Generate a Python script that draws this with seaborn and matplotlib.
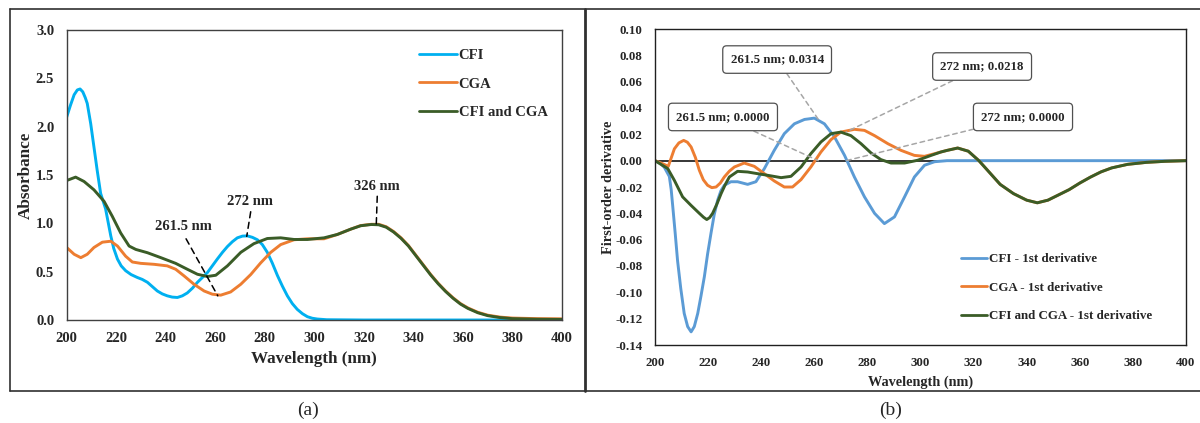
import numpy as np
import pandas as pd
import matplotlib
matplotlib.use("Agg")
import matplotlib.pyplot as plt
from matplotlib.lines import Line2D
import seaborn as sns

# ---------------- data: panel (a) absorbance ----------------
cfi_wl = [200, 201.5, 203, 204.3, 205.4, 206.5, 207.5, 208.3, 209.7, 211, 212.3, 213.7, 215.7,
          217.8, 219, 220.5, 222, 223.8, 226, 228.5, 230.5, 232.6, 234.6, 236.6, 238.6, 240.6,
          242.6, 244.7, 246.7, 248.7, 250.8, 252.8, 254.8, 256.8, 258.8, 260.8, 262.9, 264.9,
          266.9, 268.9, 271, 273, 275, 277, 279, 281, 283, 285.1, 287.1, 289.1, 291.1, 293.1,
          295.2, 297.2, 299.2, 301.2, 305, 320, 400]
cfi_abs = [2.10, 2.22, 2.33, 2.38, 2.39, 2.36, 2.30, 2.24, 2.03, 1.79, 1.55, 1.31, 1.15,
           0.87, 0.74, 0.63, 0.56, 0.51, 0.47, 0.44, 0.42, 0.39, 0.345, 0.30, 0.27, 0.25,
           0.237, 0.233, 0.25, 0.28, 0.33, 0.39, 0.44, 0.49, 0.56, 0.63, 0.70, 0.76,
           0.81, 0.85, 0.868, 0.87, 0.855, 0.83, 0.78, 0.70, 0.59, 0.46, 0.35, 0.25, 0.17, 0.11,
           0.065, 0.034, 0.018, 0.01, 0.003, 0.0, 0.0]

cga_wl = [200, 203, 205.7, 208.3, 211, 214.4, 217.8, 220.5, 223.8, 226.5, 229.9, 235.3, 240.6,
          244, 247.4, 251.4, 255.5, 258.8, 262.2, 266.2, 270.3, 274.3, 278.3, 282.4, 286.4,
          291.8, 297.2, 303.9, 309.3, 314.7, 318.7, 323, 326, 329, 332, 335, 338, 341, 344,
          347, 350, 353, 356, 359, 362, 366, 370, 375, 380, 390, 400]
cga_abs = [0.75, 0.68, 0.645, 0.68, 0.75, 0.805, 0.815, 0.765, 0.66, 0.60, 0.586, 0.576, 0.56,
           0.525, 0.456, 0.37, 0.30, 0.267, 0.257, 0.29, 0.37, 0.47, 0.59, 0.70, 0.78,
           0.83, 0.84, 0.84, 0.885, 0.94, 0.977, 0.99, 0.99, 0.965, 0.915, 0.85, 0.77, 0.67, 0.57,
           0.47, 0.38, 0.30, 0.23, 0.17, 0.125, 0.08, 0.05, 0.03, 0.02, 0.014, 0.012]

mix_wl = [200, 203.6, 207, 211, 215.1, 218.4, 221.8, 225.2, 227.9, 232.6, 238, 244, 248.7,
          252.8, 256.8, 260.2, 264.9, 270.3, 275.6, 281, 286.4, 291.8, 297.2, 303.9, 309.3,
          314.7, 318.7, 323, 326, 329, 332, 335, 338, 341, 344, 347, 350, 353, 356, 359, 362,
          366, 370, 375, 380, 390, 400]
mix_abs = [1.443, 1.478, 1.433, 1.347, 1.227, 1.073, 0.90, 0.765, 0.73, 0.696, 0.645, 0.586, 0.525,
           0.473, 0.45, 0.463, 0.56, 0.70, 0.79, 0.843, 0.85, 0.833, 0.833, 0.85, 0.885,
           0.94, 0.975, 0.988, 0.985, 0.96, 0.91, 0.845, 0.765, 0.665, 0.565, 0.465, 0.375, 0.295,
           0.225, 0.165, 0.12, 0.075, 0.045, 0.025, 0.014, 0.008, 0.006]

# peak annotations in panel (a)
peak_labels = ["261.5 nm", "272 nm", "326 nm"]
peak_wl = [261.0, 272.7, 325.0]
peak_abs = [0.25, 0.865, 0.985]

# ---------------- data: panel (b) first derivative ----------------
dcfi_wl = [200, 202, 203.5, 205.4, 206.1, 206.7, 207.6, 208.5, 209.7, 211, 212.3, 213.6, 214.8,
           216.1, 217.3, 218.6, 219.8, 221.1, 222.3, 223.6, 224.8, 226.1, 228.6, 231.1, 234.9,
           238, 241.2, 244.9, 248.7, 252.5, 256.3, 260, 263.8, 267.6, 271.4, 275.1, 278.9,
           282.7, 286.4, 290.2, 294, 297.7, 301.5, 305.3, 310, 400]
dcfi_val = [0.0, -0.002, -0.005, -0.012, -0.022, -0.035, -0.055, -0.076, -0.097, -0.116, -0.126, -0.130, -0.126,
            -0.116, -0.103, -0.088, -0.071, -0.055, -0.041, -0.030, -0.023, -0.0187, -0.016, -0.016, -0.018,
            -0.016, -0.006, 0.0078, 0.0205, 0.028, 0.0313, 0.0323, 0.028, 0.018, 0.004, -0.0124, -0.0275,
            -0.040, -0.0478, -0.0427, -0.0275, -0.0124, -0.0035, -0.0008, 0.0, 0.0]

dcga_wl = [200, 202.3, 205, 207.3, 209, 210.8, 212.2, 213.6, 215.2, 216.7, 218.2, 219.8, 221.4, 223,
           224.6, 226.1, 228, 229.9, 233.6, 237.4, 241.2, 244.9, 248.7, 251.8, 255, 258.7, 262.5,
           266.3, 270, 275.1, 278.9, 282.7, 287.7, 292.7, 297.7, 301.5, 305.3, 307.7, 310, 314,
           318, 322, 326, 330, 335, 340, 344, 348, 352, 356, 360, 364, 368, 372, 378, 385, 392, 400]
dcga_val = [0.0, -0.0018, -0.0043, 0.009, 0.0135, 0.0154, 0.0140, 0.0104, 0.0025, -0.0073, -0.0145, -0.0187, -0.0205, -0.020,
            -0.0170, -0.0124, -0.0080, -0.0048, -0.0018, -0.0043, -0.0099, -0.0154, -0.020, -0.020, -0.0144, -0.0048, 0.0066,
            0.016, 0.0217, 0.0238, 0.023, 0.019, 0.0129, 0.0078, 0.004, 0.0033, 0.0053, 0.0066, 0.0078, 0.0096,
            0.0072, 0.0, -0.009, -0.018, -0.025, -0.030, -0.032, -0.030, -0.026, -0.022, -0.017, -0.0125, -0.0085,
            -0.0055, -0.0028, -0.0013, -0.0005, 0.0]

dmix_wl = [200, 204.8, 207.3, 210.4, 213.6, 216.7, 218.3, 219.5, 220.6, 221.7, 223.3, 224.9, 226.5, 228,
           231.1, 234.9, 238.7, 242.4, 247.5, 251.2, 255, 258.7, 262.5, 266.3, 270, 273.8, 277.6,
           281.4, 285.1, 288.9, 294, 298.9, 304, 307.7, 310, 314, 318, 322, 326, 330, 335, 340,
           344, 348, 352, 356, 360, 364, 368, 372, 378, 385, 392, 400]
dmix_val = [0.0, -0.006, -0.015, -0.0275, -0.034, -0.040, -0.0430, -0.0447, -0.0432, -0.040, -0.033, -0.025, -0.018, -0.0124,
            -0.0081, -0.0086, -0.0099, -0.0111, -0.0129, -0.0119, -0.0048, 0.0053, 0.0142, 0.0205, 0.0217, 0.019, 0.0129,
            0.0058, 0.0008, -0.0018, -0.0018, 0.0003, 0.004, 0.0066, 0.0078, 0.0096, 0.0072, 0.0, -0.009, -0.018, -0.025,
            -0.030, -0.032, -0.030, -0.026, -0.022, -0.017, -0.0125, -0.0085, -0.0055, -0.0028, -0.0013, -0.0005, 0.0]

deriv_ann_wl = [261.5, 261.5, 272.0, 272.0]
deriv_ann_val = [0.0314, 0.0000, 0.0218, 0.0000]

series_a = ["CFI", "CGA", "CFI and CGA"]
series_b = ["CFI - 1st derivative", "CGA - 1st derivative", "CFI and CGA - 1st derivative"]

# ---------------- styling ----------------
sns.set_theme(style="white")
plt.rcParams['font.family'] = ['Liberation Serif', 'DejaVu Serif']
plt.rcParams['font.weight'] = 'bold'

pal_a = {"CFI": "#00B0F0", "CGA": "#ED7D31", "CFI and CGA": "#3A5C27"}
pal_b = {series_b[0]: "#5B9BD5", series_b[1]: "#ED7D31", series_b[2]: "#3A5C27"}

df_a = pd.concat([
    pd.DataFrame({"wl": cfi_wl, "val": cfi_abs, "series": series_a[0]}),
    pd.DataFrame({"wl": cga_wl, "val": cga_abs, "series": series_a[1]}),
    pd.DataFrame({"wl": mix_wl, "val": mix_abs, "series": series_a[2]}),
], ignore_index=True)
df_b = pd.concat([
    pd.DataFrame({"wl": dcfi_wl, "val": dcfi_val, "series": series_b[0]}),
    pd.DataFrame({"wl": dcga_wl, "val": dcga_val, "series": series_b[1]}),
    pd.DataFrame({"wl": dmix_wl, "val": dmix_val, "series": series_b[2]}),
], ignore_index=True)

fig = plt.figure(figsize=(12, 4.23), dpi=100)
fig.patch.set_facecolor("white")
W, H = 1200, 423

def frac(x0, y0, x1, y1):
    return [x0 / W, 1 - y1 / H, (x1 - x0) / W, (y1 - y0) / H]

axa = fig.add_axes(frac(66.7, 30, 562, 320))
axb = fig.add_axes(frac(655, 29, 1186, 345))

# ---- panel (a)
sns.lineplot(data=df_a, x="wl", y="val", hue="series", hue_order=series_a, palette=pal_a,
             sort=False, estimator=None, lw=2.1, ax=axa, legend=False)
axa.set_xlim(200, 400)
axa.set_ylim(0, 3.0)
axa.set_xticks(np.arange(200, 401, 20))
axa.set_yticks(np.arange(0, 3.01, 0.5))
axa.set_yticklabels([f"{v:.1f}" for v in np.arange(0, 3.01, 0.5)])
axa.tick_params(axis="both", length=0, labelsize=10.5)
axa.tick_params(axis="y", pad=9)
axa.tick_params(axis="x", pad=9)
axa.set_xlabel("Wavelength (nm)", fontsize=12.3, fontweight="bold", labelpad=4)
axa.set_ylabel("Absorbance", fontsize=12.3, fontweight="bold", labelpad=1.5)
for s in axa.spines.values():
    s.set_color("#404040"); s.set_linewidth(1.0)
handles_a = [Line2D([], [], color=pal_a[s], lw=2) for s in series_a]
axa.legend(handles_a, series_a, loc="upper left", bbox_to_anchor=(0.712, 0.934), frameon=False,
           fontsize=10.5, handlelength=2.6, handletextpad=0.1, labelspacing=1.03,
           borderpad=0, borderaxespad=0)

text_pos_a = [(247.1, 0.965), (274.2, 1.225), (325.4, 1.38)]
line_start_a = [(248.2, 0.84), (274.3, 1.12), (325.4, 1.28)]
for lab, wl, ab, tp, ls in zip(peak_labels, peak_wl, peak_abs, text_pos_a, line_start_a):
    axa.text(tp[0], tp[1], lab, ha="center", va="center", fontsize=10.5, fontweight="bold")
    axa.annotate("", xy=(wl, ab), xytext=ls,
                 arrowprops=dict(arrowstyle="-", linestyle=(0, (4, 3)), color="black", lw=1.1,
                                 shrinkA=0, shrinkB=0))

# ---- panel (b)
axb.axhline(0, color="black", lw=1.1, zorder=1)
sns.lineplot(data=df_b, x="wl", y="val", hue="series", hue_order=series_b, palette=pal_b,
             sort=False, estimator=None, lw=2.1, ax=axb, legend=False)
axb.set_xlim(200, 400)
axb.set_ylim(-0.14, 0.10)
axb.set_xticks(np.arange(200, 401, 20))
yt = np.round(np.arange(-0.14, 0.1001, 0.02), 2)
axb.set_yticks(yt)
axb.set_yticklabels([f"{v:.2f}" for v in yt])
axb.tick_params(axis="both", length=0, labelsize=9.3)
axb.tick_params(axis="y", pad=9)
axb.tick_params(axis="x", pad=9)
axb.set_xlabel("Wavelength (nm)", fontsize=10.3, fontweight="bold", labelpad=4)
axb.set_ylabel("First-order derivative", fontsize=10.3, fontweight="bold", labelpad=0.5)
for s in axb.spines.values():
    s.set_color("#202020"); s.set_linewidth(1.0)
handles_b = [Line2D([], [], color=pal_b[s], lw=2) for s in series_b]
axb.legend(handles_b, series_b, loc="upper left", bbox_to_anchor=(0.576, 0.290), frameon=False,
           fontsize=9.4, handlelength=2.0, handletextpad=0.15, labelspacing=1.25,
           borderpad=0, borderaxespad=0)

box_pos_b = [(246.0, 0.0768), (225.6, 0.0332), (323.2, 0.0715), (338.6, 0.0332)]
for wl, v, bp in zip(deriv_ann_wl, deriv_ann_val, box_pos_b):
    lab = f"{wl:g} nm; {v:.4f}"
    axb.annotate(lab, xy=(wl, v), xytext=bp, ha="center", va="center",
                 fontsize=9.3, fontweight="bold",
                 bbox=dict(boxstyle="round,pad=0.6,rounding_size=0.3", fc="white", ec="#505050", lw=0.9),
                 arrowprops=dict(arrowstyle="-", linestyle=(0, (3, 2.5)), color="#A6A6A6", lw=1.1,
                                 shrinkA=0, shrinkB=0), zorder=5)

# ---- outer frames and panel captions
frame_kw = dict(color="#303030", lw=1.2, transform=fig.transFigure)
fig.add_artist(Line2D([10 / W, 1.0], [1 - 9.5 / H, 1 - 9.5 / H], **frame_kw))
fig.add_artist(Line2D([10 / W, 1.0], [1 - 391 / H, 1 - 391 / H], **frame_kw))
fig.add_artist(Line2D([10 / W, 10 / W], [1 - 9.5 / H, 1 - 391 / H], **frame_kw))
fig.add_artist(Line2D([585 / W, 585 / W], [1 - 9.5 / H, 1 - 391 / H], color="#303030", lw=2.0,
                      transform=fig.transFigure))
fig.text(308 / W, 1 - 410 / H, "(a)", ha="center", va="center", fontsize=14, fontweight="normal")
fig.text(891 / W, 1 - 410 / H, "(b)", ha="center", va="center", fontsize=14, fontweight="normal")

fig.savefig("out.png", dpi=100, facecolor="white")
